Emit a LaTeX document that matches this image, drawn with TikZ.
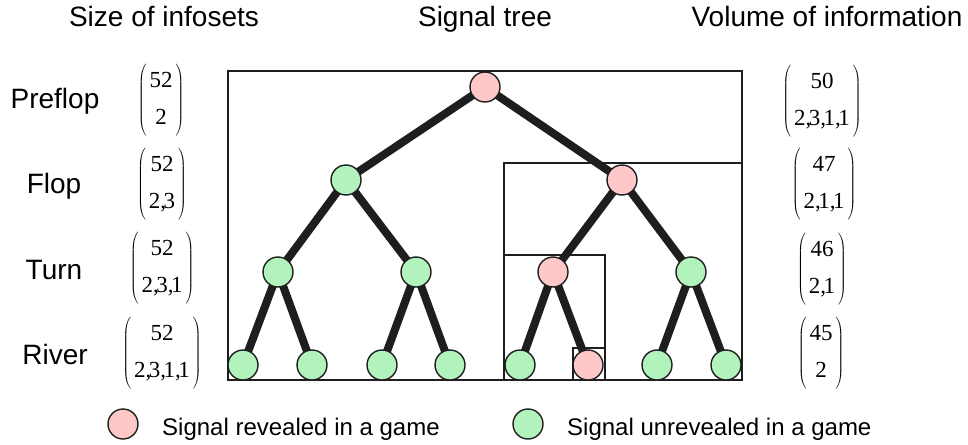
\documentclass[tikz,border=0pt]{standalone}
\usepackage{fontspec}
\setmainfont{Liberation Serif}
\setsansfont{Liberation Sans}
\usepackage{xcolor}
\definecolor{revealedPink}{RGB}{255, 200, 200}
\definecolor{unrevealedGreen}{RGB}{178, 242, 188}
\definecolor{lineBlack}{RGB}{30, 30, 30}
\usepackage{tikz}
\usetikzlibrary{backgrounds}
\newcommand{\tcomma}{,\kern-2.5pt}
\newcommand{\infocount}[2]{$\left(\begin{tabular}{@{\kern3pt}c@{\kern3pt}}\rule{0pt}{24pt}#1\\[9pt]#2\rule[-12pt]{0pt}{12pt}\end{tabular}\right)$}
\tikzset{
  revealed/.style={circle, draw=lineBlack, line width=1.4pt, fill=revealedPink, minimum size=30pt, inner sep=0pt},
  unrevealed/.style={revealed, fill=unrevealedGreen},
  signalEdge/.style={draw=lineBlack, line width=8pt},
  infoBox/.style={draw=lineBlack, line width=2pt},
  heading/.style={font=\sffamily\fontsize{28}{34}\selectfont, anchor=base, inner sep=0pt},
  legendText/.style={font=\sffamily\fontsize{24}{29}\selectfont, anchor=base west, inner sep=0pt},
  binomNode/.style={font=\fontsize{23}{28}\selectfont, inner sep=0pt}
}

\begin{document}
\begin{tikzpicture}[x=1pt, y=-1pt]
\useasboundingbox (0,0) rectangle (968,444);
% headings
\node[heading] (hsize) at (164,27) {Size of infosets};
\node[heading] (htree) at (485,27) {Signal tree};
\node[heading] (hvolume) at (827,27) {Volume of information};
% betting rounds
\node[heading] (preflop) at (55,108) {Preflop};
\node[heading] (flop) at (54,193) {Flop};
\node[heading] (turn) at (54,279) {Turn};
\node[heading] (river) at (55,364) {River};
% size of infosets
\node[binomNode] (sizePreflop) at (161,100) {\infocount{52}{2}};
\node[binomNode] (sizeFlop) at (162,184) {\infocount{52}{2\tcomma3}};
\node[binomNode] (sizeTurn) at (162,268) {\infocount{52}{2\tcomma3\tcomma1}};
\node[binomNode] (sizeRiver) at (162,353) {\infocount{52}{2\tcomma3\tcomma1\tcomma1}};
% volume of information
\node[binomNode] (volPreflop) at (822,101) {\infocount{50}{2\tcomma3\tcomma1\tcomma1}};
\node[binomNode] (volFlop) at (824,184) {\infocount{47}{2\tcomma1\tcomma1}};
\node[binomNode] (volTurn) at (822,269) {\infocount{46}{2\tcomma1}};
\node[binomNode] (volRiver) at (821,353) {\infocount{45}{2}};
% signal tree
\node[revealed] (root) at (485,87) {};
\node[unrevealed] (fl) at (346,180) {};
\node[revealed] (fr) at (622,180) {};
\node[unrevealed] (t1) at (278,272) {};
\node[unrevealed] (t2) at (416,272) {};
\node[revealed] (t3) at (553,272) {};
\node[unrevealed] (t4) at (691,272) {};
\node[unrevealed] (r1) at (243,365) {};
\node[unrevealed] (r2) at (312,365) {};
\node[unrevealed] (r3) at (382,365) {};
\node[unrevealed] (r4) at (450,365) {};
\node[unrevealed] (r5) at (520,365) {};
\node[revealed] (r6) at (588,365) {};
\node[unrevealed] (r7) at (657,365) {};
\node[unrevealed] (r8) at (726,365) {};
\begin{scope}[on background layer]
% infosets
\draw[infoBox] (228,71) rectangle (742,380);
\draw[infoBox] (504,163) rectangle (742,380);
\draw[infoBox] (504,255) rectangle (605,380);
\draw[infoBox] (573,348) rectangle (605,380);
\foreach \a/\b in {root/fl, root/fr, fl/t1, fl/t2, fr/t3, fr/t4,
  t1/r1, t1/r2, t2/r3, t2/r4, t3/r5, t3/r6, t4/r7, t4/r8}
  \draw[signalEdge] (\a.center) -- (\b.center);
\end{scope}
% legend
\node[revealed] (keyRevealed) at (123,424) {};
\node[legendText] (txtRevealed) at (162,435) {Signal revealed in a game};
\node[unrevealed] (keyUnrevealed) at (528,424) {};
\node[legendText] (txtUnrevealed) at (567,435) {Signal unrevealed in a game};
\end{tikzpicture}
\end{document}
